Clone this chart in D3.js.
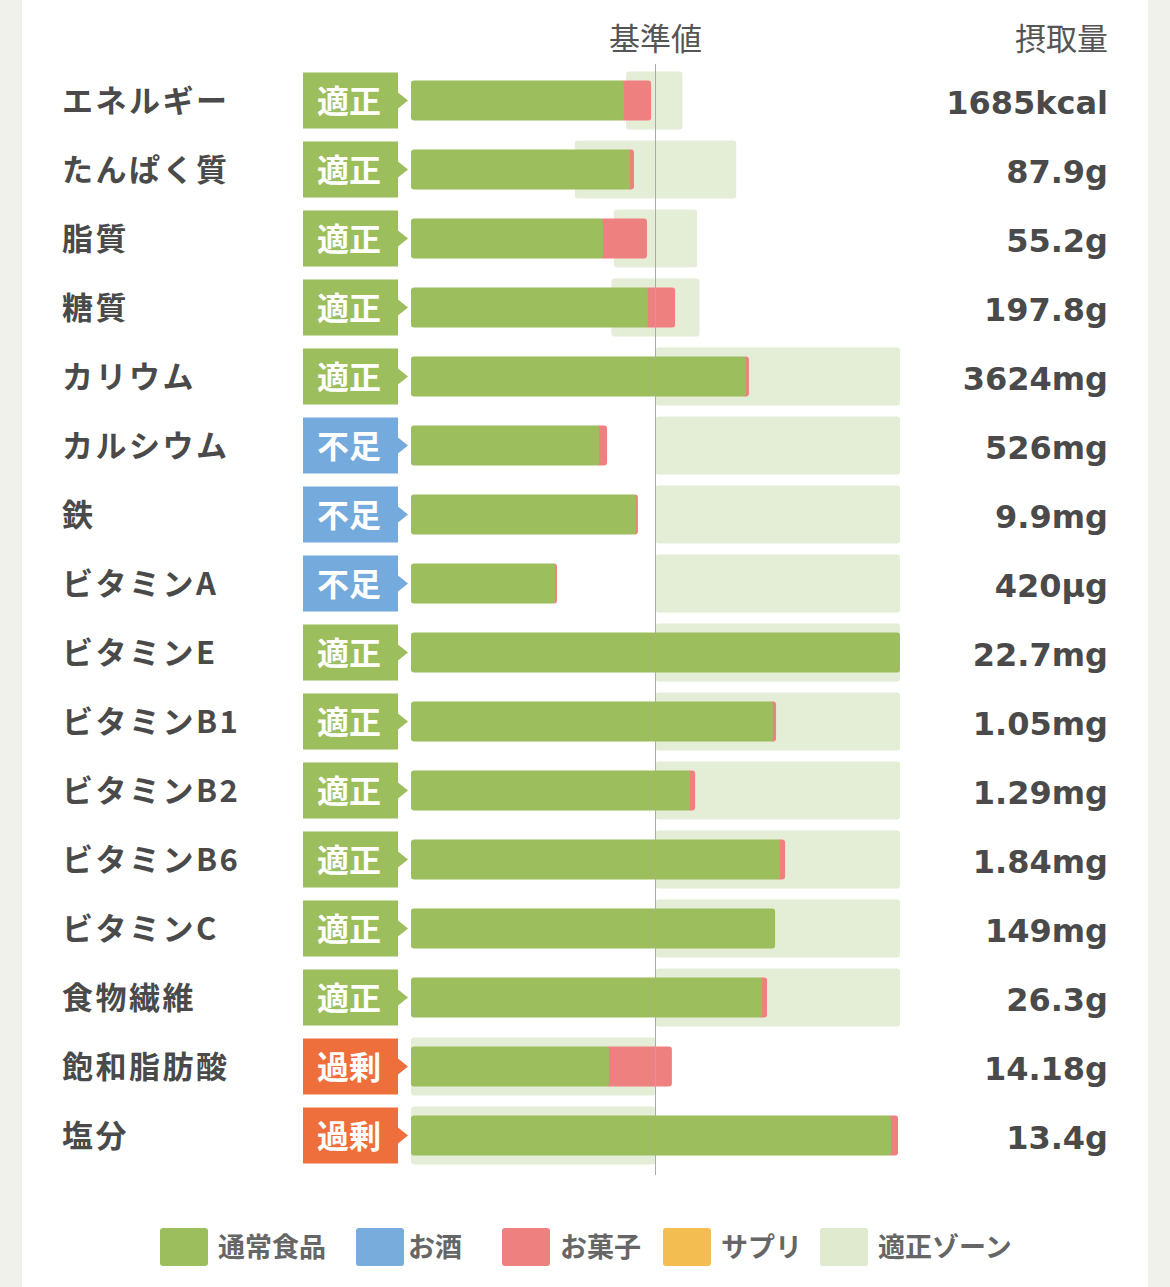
<!DOCTYPE html><html><head><meta charset="utf-8"><script src="https://cdn.jsdelivr.net/npm/d3@7"></script>
<style>body{margin:0;background:#f1f1ec}svg{display:block}</style></head><body><script>
const nutrients=["エネルギー","たんぱく質","脂質","糖質","カリウム","カルシウム","鉄","ビタミンA","ビタミンE","ビタミンB1","ビタミンB2","ビタミンB6","ビタミンC","食物繊維","飽和脂肪酸","塩分"];
const status=["適正","適正","適正","適正","適正","不足","不足","不足","適正","適正","適正","適正","適正","適正","過剰","過剰"];
const intake=["1685kcal","87.9g","55.2g","197.8g","3624mg","526mg","9.9mg","420µg","22.7mg","1.05mg","1.29mg","1.84mg","149mg","26.3g","14.18g","13.4g"];
// percent of standard value
const foodPct=[87.1,89.6,78.5,96.9,137,76.9,92,58.9,200,148,114.1,150.9,148.9,143.6,81,196.3];
const snackPct=[11.1,1.6,18,11.1,1.2,3.3,0.8,0.8,0,1.3,2.1,2.1,0,2,25.7,2.9];
const zoneLow=[88,67,83,82,100,100,100,100,100,100,100,100,100,100,0,0];
const zoneHigh=[111,133,117,118,200,200,200,200,200,200,200,200,200,200,100,100];
const legendLabels=["通常食品","お酒","お菓子","サプリ","適正ゾーン"];
const legendColors=["#9cbe5d","#78acdc","#ef8080","#f4bd52","#dfeacf"];
const statusColors={"適正":"#9cbe5d","不足":"#74aadc","過剰":"#ef6f3c"};
const W=1170,H=1287,font="'Noto Sans CJK JP',sans-serif",numFont="'DejaVu Sans','Noto Sans CJK JP',sans-serif";
const svg=d3.select("body").append("svg").attr("width",W).attr("height",H);
svg.append("rect").attr("x",22).attr("y",0).attr("width",1126).attr("height",H).attr("fill","#fff");
const x=d3.scaleLinear().domain([0,200]).range([411,900]);
const y=d3.scaleBand().domain(nutrients).range([66,1170]).paddingInner(0);
const rows=svg.selectAll("g.row").data(nutrients).join("g").attr("transform",d=>`translate(0,${y(d)+y.bandwidth()/2})`);
rows.append("rect").attr("x",(d,i)=>x(zoneLow[i])).attr("width",(d,i)=>x(zoneHigh[i])-x(zoneLow[i])).attr("y",-29).attr("height",58).attr("rx",3).attr("fill","#dfeacf").attr("opacity",0.85);
rows.append("rect").attr("x",(d,i)=>x(foodPct[i])-4).attr("width",(d,i)=>snackPct[i]>0?x(foodPct[i]+snackPct[i])-x(foodPct[i])+4:0).attr("y",-20).attr("height",40).attr("rx",3).attr("fill","#ef8080");
rows.append("rect").attr("x",x(0)).attr("width",(d,i)=>x(foodPct[i])-x(0)).attr("y",-20).attr("height",40).attr("rx",3).attr("fill","#9cbe5d");
rows.append("path").attr("d","M303,-28 h95 l0,20 l10,8 l-10,8 v20 h-95 z").attr("fill",(d,i)=>statusColors[status[i]]);
rows.append("text").attr("x",349).attr("y",12).attr("text-anchor","middle").attr("font-family",font).attr("font-size",32).attr("font-weight",700).attr("fill","#fff").text((d,i)=>status[i]);
rows.append("text").attr("x",62).attr("y",11).attr("font-family",font).attr("font-size",31).attr("font-weight",700).attr("letter-spacing",2.5).attr("fill","#4a4a4a").text(d=>d);
rows.append("text").attr("x",1108).attr("y",13).attr("text-anchor","end").attr("font-family",numFont).attr("font-size",32).attr("font-weight",700).attr("fill","#4a4a4a").text((d,i)=>intake[i]);
svg.append("line").attr("x1",x(100)).attr("x2",x(100)).attr("y1",64).attr("y2",1175).attr("stroke","#aaa").attr("stroke-width",1);
svg.append("text").attr("x",x(100)).attr("y",50).attr("text-anchor","middle").attr("font-family",font).attr("font-size",31).attr("fill","#555").text("基準値");
svg.append("text").attr("x",1108).attr("y",50).attr("text-anchor","end").attr("font-family",font).attr("font-size",31).attr("fill","#555").text("摂取量");
const lx=[160,356,502,663,820];
const lg=svg.selectAll("g.lg").data(legendLabels).join("g").attr("transform",(d,i)=>`translate(${lx[i]},1247)`);
lg.append("rect").attr("y",-19).attr("width",48).attr("height",38).attr("rx",3).attr("fill",(d,i)=>legendColors[i]);
lg.append("text").attr("x",(d,i)=>i==1?52:58).attr("y",10).attr("font-family",font).attr("font-size",27).attr("font-weight",700).attr("fill","#666").text(d=>d);
</script></body></html>
